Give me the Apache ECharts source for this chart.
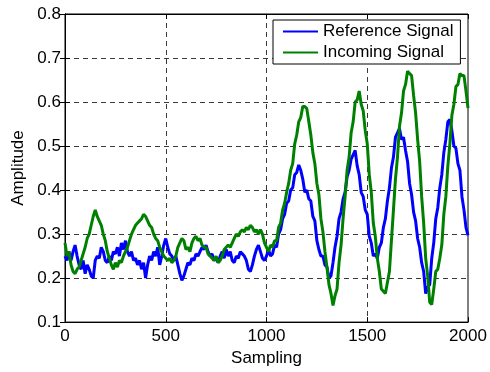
<!DOCTYPE html>
<html>
<head>
<meta charset="utf-8">
<script src="https://cdn.jsdelivr.net/npm/echarts@6/dist/echarts.min.js"></script>
<style>
  html, body { margin: 0; padding: 0; background: #fff; }
  #chart { width: 490px; height: 372px; }
</style>
</head>
<body>
<div id="chart"></div>
<script>
// samples are every 10 steps, 0..2000
const STEP = 10;
const X_TICKS = [0, 500, 1000, 1500, 2000];
const Y_TICKS = [0.1, 0.2, 0.3, 0.4, 0.5, 0.6, 0.7, 0.8];
const SERIES_NAMES = ['Reference Signal', 'Incoming Signal'];

const referenceSignal = [
  0.25, 0.24, 0.26, 0.24, 0.26, 0.275, 0.25, 0.23, 0.22, 0.24,
  0.21, 0.23, 0.22, 0.205, 0.2, 0.24, 0.25, 0.245, 0.27, 0.26,
  0.24, 0.235, 0.25, 0.24, 0.26, 0.255, 0.27, 0.25, 0.28, 0.265,
  0.285, 0.26, 0.25, 0.26, 0.24, 0.245, 0.23, 0.24, 0.22, 0.235,
  0.2, 0.23, 0.25, 0.24, 0.26, 0.25, 0.27, 0.23, 0.25, 0.275,
  0.29, 0.27, 0.255, 0.25, 0.24, 0.25, 0.23, 0.21, 0.195, 0.205,
  0.22, 0.235, 0.23, 0.245, 0.24, 0.255, 0.25, 0.26, 0.27, 0.265,
  0.275, 0.26, 0.25, 0.255, 0.24, 0.245, 0.235, 0.25, 0.26, 0.245,
  0.265, 0.25, 0.26, 0.24, 0.235, 0.25, 0.245, 0.26, 0.255, 0.25,
  0.24, 0.22, 0.215, 0.23, 0.25, 0.265, 0.275, 0.26, 0.245, 0.24,
  0.25, 0.265, 0.25, 0.255, 0.275, 0.27, 0.3, 0.31, 0.335, 0.345,
  0.37, 0.375, 0.4, 0.405, 0.435, 0.44, 0.457, 0.445, 0.425, 0.395,
  0.4, 0.38, 0.375, 0.34, 0.33, 0.285, 0.265, 0.25, 0.25, 0.23,
  0.225, 0.2, 0.205, 0.235, 0.27, 0.295, 0.335, 0.35, 0.38, 0.395,
  0.43, 0.445, 0.47, 0.48, 0.49, 0.455, 0.435, 0.395, 0.385, 0.355,
  0.345, 0.295, 0.28, 0.25, 0.255, 0.245, 0.27, 0.28, 0.315, 0.335,
  0.375, 0.405, 0.45, 0.475, 0.52, 0.53, 0.54, 0.515, 0.52, 0.49,
  0.465, 0.415, 0.39, 0.35, 0.33, 0.29, 0.27, 0.235, 0.215, 0.165,
  0.18, 0.185, 0.245, 0.28, 0.335, 0.36, 0.405, 0.435, 0.485, 0.515,
  0.555, 0.56, 0.535, 0.5, 0.495, 0.46, 0.445, 0.385, 0.355, 0.315,
  0.297
];

const incomingSignal = [
  0.28, 0.25, 0.26, 0.23, 0.215, 0.21, 0.22, 0.225, 0.24, 0.255,
  0.27, 0.29, 0.3, 0.32, 0.34, 0.355, 0.34, 0.33, 0.32, 0.3,
  0.285, 0.26, 0.245, 0.23, 0.22, 0.235, 0.225, 0.24, 0.235, 0.25,
  0.26, 0.27, 0.285, 0.3, 0.31, 0.32, 0.325, 0.33, 0.335, 0.345,
  0.34, 0.33, 0.32, 0.315, 0.3, 0.29, 0.285, 0.27, 0.26, 0.25,
  0.245, 0.24, 0.245, 0.235, 0.24, 0.25, 0.27, 0.28, 0.29, 0.285,
  0.265, 0.27, 0.26, 0.28, 0.29, 0.295, 0.285, 0.29, 0.275, 0.27,
  0.27, 0.255, 0.25, 0.245, 0.24, 0.25, 0.235, 0.24, 0.25, 0.265,
  0.27, 0.275, 0.27, 0.28, 0.29, 0.3, 0.295, 0.305, 0.31, 0.305,
  0.315, 0.31, 0.32, 0.315, 0.305, 0.31, 0.3, 0.31, 0.3, 0.28,
  0.27, 0.26, 0.275, 0.27, 0.285, 0.285, 0.315, 0.325, 0.355, 0.37,
  0.395, 0.415, 0.445, 0.46, 0.505, 0.525, 0.555, 0.565, 0.59, 0.59,
  0.585, 0.555, 0.525, 0.485, 0.46, 0.415, 0.39, 0.335, 0.305, 0.26,
  0.225, 0.185, 0.165, 0.138, 0.16, 0.175, 0.235, 0.275, 0.335, 0.385,
  0.445, 0.475, 0.53, 0.555, 0.6, 0.605, 0.625, 0.595, 0.58, 0.535,
  0.505, 0.435, 0.395, 0.325, 0.295, 0.245, 0.215, 0.175, 0.17, 0.165,
  0.19, 0.215, 0.285, 0.355, 0.425, 0.475, 0.545, 0.575, 0.625, 0.64,
  0.67, 0.665, 0.66, 0.615, 0.575, 0.515, 0.465, 0.385, 0.325, 0.245,
  0.205, 0.145, 0.14, 0.175, 0.215, 0.22, 0.245, 0.275, 0.345, 0.385,
  0.455, 0.505, 0.57, 0.595, 0.635, 0.64, 0.665, 0.66, 0.66, 0.625,
  0.586
];

const FONT = 'Liberation Sans, Arial, sans-serif';
const toPairs = (arr) => arr.map((v, i) => [i * STEP, v]);

const chart = echarts.init(document.getElementById('chart'), null, { renderer: 'canvas' });

const gridDash = { type: [5, 4], color: '#3a3a3a', width: 1 };

chart.setOption({
  animation: false,
  backgroundColor: '#fff',
  textStyle: { fontFamily: FONT },
  grid: {
    left: 65, right: 22, top: 14, bottom: 44,
    show: true, borderColor: '#000', borderWidth: 1, backgroundColor: '#fff'
  },
  legend: {
    data: SERIES_NAMES,
    orient: 'vertical',
    left: 273, top: 20,
    padding: [3, 7, 3, 9],
    itemGap: 4,
    itemWidth: 35,
    itemHeight: 20,
    backgroundColor: '#fff',
    borderColor: '#000',
    borderWidth: 1,
    borderRadius: 0,
    // hide the marker circle, keep only the line sample
    itemStyle: { opacity: 0 },
    textStyle: { color: '#000', fontSize: 17, fontFamily: FONT }
  },
  xAxis: [{
    type: 'value',
    min: X_TICKS[0], max: X_TICKS[X_TICKS.length - 1], interval: 500,
    name: 'Sampling', nameLocation: 'middle', nameGap: 22,
    nameTextStyle: { color: '#000', fontSize: 17, fontFamily: FONT },
    axisLine: { lineStyle: { color: '#000', width: 1 } },
    axisTick: { inside: true, length: 5, lineStyle: { color: '#000' } },
    axisLabel: { color: '#000', fontSize: 17, margin: 6, fontFamily: FONT,
      formatter: (v) => String(v) },
    splitLine: { show: true, showMinLine: false, showMaxLine: false, lineStyle: gridDash }
  }, {
    type: 'value', position: 'top',
    min: X_TICKS[0], max: X_TICKS[X_TICKS.length - 1], interval: 500,
    axisLine: { lineStyle: { color: '#000' } },
    axisTick: { inside: true, length: 5, lineStyle: { color: '#000' } },
    axisLabel: { show: false }, splitLine: { show: false }
  }],
  yAxis: [{
    type: 'value',
    min: Y_TICKS[0], max: Y_TICKS[Y_TICKS.length - 1], interval: 0.1,
    name: 'Amplitude', nameLocation: 'middle', nameGap: 36, nameRotate: 90,
    nameTextStyle: { color: '#000', fontSize: 17, fontFamily: FONT },
    axisLine: { show: true, lineStyle: { color: '#000', width: 1 } },
    axisTick: { show: true, inside: true, length: 5, lineStyle: { color: '#000' } },
    axisLabel: { color: '#000', fontSize: 17, margin: 4, fontFamily: FONT,
      formatter: (v) => v.toFixed(1) },
    splitLine: { show: true, showMinLine: false, showMaxLine: false, lineStyle: gridDash }
  }, {
    type: 'value', position: 'right',
    min: Y_TICKS[0], max: Y_TICKS[Y_TICKS.length - 1], interval: 0.1,
    axisLine: { show: true, lineStyle: { color: '#000' } },
    axisTick: { show: true, inside: true, length: 5, lineStyle: { color: '#000' } },
    axisLabel: { show: false }, splitLine: { show: false }
  }],
  series: [{
    name: SERIES_NAMES[0],
    type: 'line',
    symbol: 'none',
    smooth: false,
    lineStyle: { color: '#0000ff', width: 3 },
    itemStyle: { color: '#0000ff' },
    data: toPairs(referenceSignal)
  }, {
    name: SERIES_NAMES[1],
    type: 'line',
    symbol: 'none',
    smooth: false,
    lineStyle: { color: '#008000', width: 3 },
    itemStyle: { color: '#008000' },
    data: toPairs(incomingSignal)
  }]
});
</script>
</body>
</html>
